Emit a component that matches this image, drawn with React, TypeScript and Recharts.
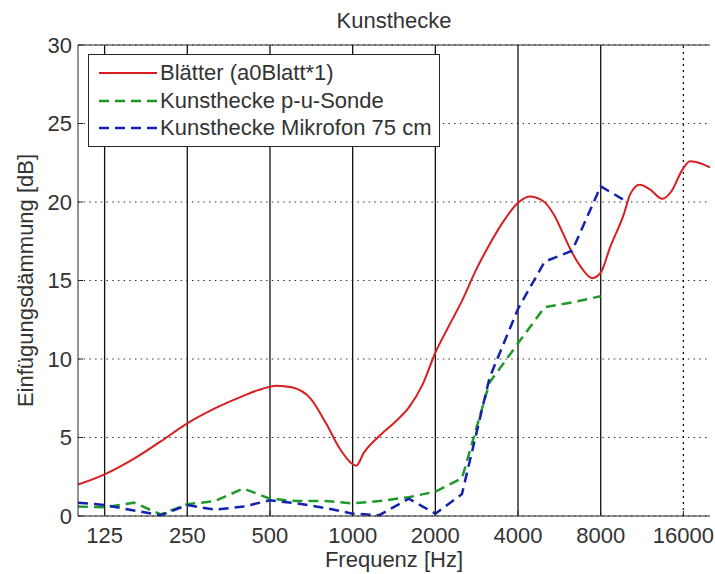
import { LineChart, Line, XAxis, YAxis, CartesianGrid, ReferenceLine } from 'recharts'

// ── Achsen ──────────────────────────────────────────────────────
const FREQ_TICKS = [125, 250, 500, 1000, 2000, 4000, 8000, 16000]
const DB_TICKS = [0, 5, 10, 15, 20, 25, 30]
const OCTAVE_LINES = [125, 250, 500, 1000, 2000, 4000, 8000]
const DOTTED_LINES = [16000]

// ── Messdaten ───────────────────────────────────────────────────
// Blätter (a0Blatt*1), feiner aufgelöst
const BLATT_FREQ = [
  100, 125, 160, 200, 250, 315, 400, 450, 530, 600, 705, 800, 890, 1000, 1030,
  1100, 1250, 1450, 1600, 1800, 2000, 2240, 2500, 2800, 3150, 3550, 4000, 4400,
  4950, 5400, 5850, 6200, 6750, 7450, 8000, 8650, 9700, 10250, 11100, 12100,
  13400, 14500, 15800, 16900, 18900, 20000,
]
const BLATT_DB = [
  2.0, 2.65, 3.65, 4.75, 5.9, 6.85, 7.65, 8.0, 8.3, 8.2, 7.45, 5.9, 4.4, 3.3, 3.2,
  4.05, 5.1, 6.1, 6.9, 8.4, 10.4, 12.1, 13.7, 15.6, 17.3, 18.8, 19.95, 20.35,
  20.05, 19.2, 17.95, 17.0, 15.9, 15.15, 15.5, 17.1, 19.2, 20.5, 21.1, 20.8,
  20.2, 20.7, 22.0, 22.6, 22.4, 22.2,
]

// Terzbänder
const TERZ_FREQ = [
  100, 125, 160, 200, 250, 315, 400, 500, 630, 800, 1000, 1250, 1600, 2000,
  2500, 3150, 4000, 5000, 6300, 8000, 10000,
]
const SONDE_DB = [
  0.6, 0.55, 0.85, 0.1, 0.75, 0.95, 1.75, 1.1, 0.95, 0.95, 0.8, 0.95, 1.2, 1.55,
  2.4, 8.5, 11.0, 13.3, 13.6, 14.0,
]
const MIKRO_DB = [
  0.85, 0.7, 0.35, 0.05, 0.7, 0.4, 0.6, 1.0, 0.8, 0.5, 0.15, 0.05, 1.1, 0.15,
  1.4, 8.8, 13.2, 16.2, 16.9, 21.0, 20.0,
]

const SERIES = [
  { name: 'Blätter (a0Blatt*1)', color: '#d81e1e', dash: undefined, width: 2 },
  { name: 'Kunsthecke p-u-Sonde', color: '#1f9a28', dash: '10 6', width: 2.5 },
  { name: 'Kunsthecke Mikrofon 75 cm', color: '#1422b0', dash: '10 6', width: 2.5 },
]

const FONT = '"Liberation Sans", Arial, sans-serif'
const FONT_SIZE = 22
const TEXT = '#333'
const AXIS = '#262626'

const blattData = BLATT_FREQ.map((f, i) => ({ f, v: BLATT_DB[i] }))
const sondeData = SONDE_DB.map((v, i) => ({ f: TERZ_FREQ[i], v }))
const mikroData = MIKRO_DB.map((v, i) => ({ f: TERZ_FREQ[i], v }))

// eslint-disable-next-line @typescript-eslint/no-explicit-any
function XTitle({ viewBox }: any) {
  return (
    <text x={viewBox.x + viewBox.width / 2} y={viewBox.y + 51} textAnchor="middle"
      fontFamily={FONT} fontSize={FONT_SIZE} fill={TEXT}>
      Frequenz [Hz]
    </text>
  )
}

// eslint-disable-next-line @typescript-eslint/no-explicit-any
function YTitle({ viewBox }: any) {
  const x = 25
  const y = viewBox.y + viewBox.height / 2
  return (
    <text x={x} y={y} transform={`rotate(-90 ${x} ${y})`} textAnchor="middle"
      dominantBaseline="central" fontFamily={FONT} fontSize={FONT_SIZE} fill={TEXT}>
      Einfügungsdämmung [dB]
    </text>
  )
}

export default function App() {
  const tickStyle = { fill: TEXT, fontSize: FONT_SIZE, fontFamily: FONT }
  return (
    <div style={{ position: 'absolute', left: 0, top: 0, width: 715, height: 574, background: '#fff' }}>
      <LineChart width={715} height={574} data={blattData}
        margin={{ top: 45, right: 5, bottom: 28, left: 18 }}>
        <CartesianGrid vertical={false} stroke="#333" strokeDasharray="1.5 4.2" />
        <XAxis dataKey="f" type="number" scale="log" domain={[100, 20000]} ticks={FREQ_TICKS}
          allowDataOverflow height={30} tick={tickStyle} tickSize={-5} tickMargin={16}
          stroke={AXIS} interval={0} label={<XTitle />} />
        <XAxis xAxisId="top" orientation="top" mirror type="number" scale="log"
          domain={[100, 20000]} ticks={FREQ_TICKS} allowDataOverflow tick={false}
          tickSize={5} stroke={AXIS} />
        <YAxis type="number" domain={[0, 30]} ticks={DB_TICKS} width={60} tick={tickStyle}
          tickSize={-5} tickMargin={11} stroke={AXIS} interval={0} label={<YTitle />} />
        <YAxis yAxisId="right" orientation="right" mirror type="number" domain={[0, 30]}
          ticks={DB_TICKS} tick={false} tickSize={5} stroke={AXIS} width={0} />

        {OCTAVE_LINES.map((f) => (
          <ReferenceLine key={f} x={f} stroke="#111" strokeWidth={1.3} />
        ))}
        {DOTTED_LINES.map((f) => (
          <ReferenceLine key={f} x={f} stroke="#111" strokeWidth={1.3} strokeDasharray="2 4" />
        ))}

        <Line data={blattData} dataKey="v" type="monotone" stroke={SERIES[0].color}
          strokeWidth={SERIES[0].width} dot={false} isAnimationActive={false} />
        <Line data={sondeData} dataKey="v" type="linear" stroke={SERIES[1].color}
          strokeWidth={SERIES[1].width} strokeDasharray={SERIES[1].dash} dot={false}
          isAnimationActive={false} />
        <Line data={mikroData} dataKey="v" type="linear" stroke={SERIES[2].color}
          strokeWidth={SERIES[2].width} strokeDasharray={SERIES[2].dash} dot={false}
          isAnimationActive={false} />
      </LineChart>

      {/* Titel */}
      <div style={{
        position: 'absolute', left: 78, width: 632, top: 10, textAlign: 'center',
        fontFamily: FONT, fontSize: FONT_SIZE, lineHeight: '21px', color: TEXT,
      }}>
        Kunsthecke
      </div>

      {/* Legende */}
      <div style={{
        position: 'absolute', left: 88, top: 54, width: 350, height: 91,
        border: `1.3px solid ${AXIS}`, background: '#fff',
        fontFamily: FONT, fontSize: FONT_SIZE, color: TEXT,
      }}>
        {SERIES.map((s, i) => (
          <div key={s.name} style={{
            position: 'absolute', left: 0, top: 6 + i * 27.5, height: 24,
            display: 'flex', alignItems: 'center', whiteSpace: 'nowrap',
          }}>
            <svg width={70} height={24} style={{ flexShrink: 0 }}>
              <line x1={10} x2={68} y1={12} y2={12} stroke={s.color} strokeWidth={s.width}
                strokeDasharray={s.dash} />
            </svg>
            <span style={{ marginLeft: 1 }}>{s.name}</span>
          </div>
        ))}
      </div>
    </div>
  )
}
